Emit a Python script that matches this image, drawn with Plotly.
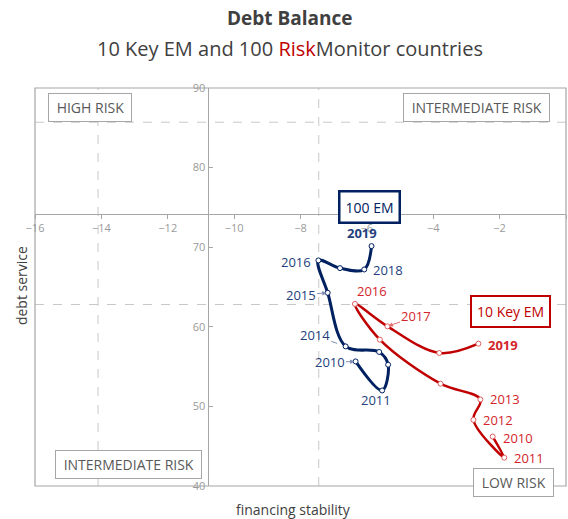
import plotly.graph_objects as go

# Debt balance paths, 2010-2019
years = [2010, 2011, 2012, 2013, 2014, 2015, 2016, 2017, 2018, 2019]

em100_x = [-6.34, -5.54, -5.36, -5.63, -6.64, -7.18, -7.46, -6.81, -6.08, -5.86]
em100_y = [55.65, 52.00, 55.24, 56.84, 57.54, 64.27, 68.34, 67.37, 67.20, 70.14]

key10_x = [-2.21, -1.86, -2.79, -2.58, -3.78, -5.61, -6.36, -5.38, -3.82, -2.64]
key10_y = [46.21, 43.56, 48.31, 50.87, 52.85, 58.39, 62.88, 60.06, 56.71, 57.88]

x_ticks = [-16, -14, -12, -10, -8, -6, -4, -2, 0]
y_ticks = [40, 50, 60, 70, 80, 90]

# reference (dashed) lines
ref_x = [-14.1, -7.45]
ref_y = [85.7, 62.8]

NAVY = "#002060"
NAVY_TXT = "#233f7d"
RED = "#c00000"
RED_TXT = "#d3252a"
GRAY = "#a6a6a6"
FONT = "Open Sans"

fig = go.Figure()

fig.add_trace(go.Scatter(
    x=em100_x, y=em100_y, mode="lines+markers", name="100 EM",
    line=dict(color=NAVY, width=3, shape="spline", smoothing=1.0),
    marker=dict(size=5, color="white", line=dict(color=NAVY, width=1)),
    hoverinfo="skip"))

fig.add_trace(go.Scatter(
    x=key10_x, y=key10_y, mode="lines+markers", name="10 Key EM",
    line=dict(color=RED, width=2.5, shape="spline", smoothing=1.0),
    marker=dict(size=5, color="white", line=dict(color="#e06060", width=1)),
    hoverinfo="skip"))

shapes = []
for v in ref_x:
    shapes.append(dict(type="line", xref="x", yref="paper", x0=v, x1=v, y0=0, y1=1,
                       line=dict(color="#c8c8c8", width=1, dash="dash"), layer="below"))
for v in ref_y:
    shapes.append(dict(type="line", xref="paper", yref="y", x0=0, x1=1, y0=v, y1=v,
                       line=dict(color="#c8c8c8", width=1, dash="dash"), layer="below"))
shapes.append(dict(type="rect", xref="paper", yref="paper", x0=0, x1=1, y0=0, y1=1,
                   line=dict(color=GRAY, width=1.2), layer="below"))

ann = []

def label(x, y, text, color, dx, dy, anchor="center", bold=False, size=13):
    t = f"<b>{text}</b>" if bold else text
    ann.append(dict(x=x, y=y, xref="x", yref="y", text=t, showarrow=False,
                    xanchor=anchor, yanchor="middle", xshift=dx, yshift=dy,
                    font=dict(family=FONT, size=size, color=color)))

def arrow_label(x, y, text, color, arrow_color, ax, ay, head=2, standoff=1, size=13):
    ann.append(dict(x=x, y=y, xref="x", yref="y", text=text, showarrow=True,
                    ax=ax, ay=ay, arrowhead=head, arrowsize=0.9, arrowwidth=1,
                    arrowcolor=arrow_color, standoff=standoff,
                    font=dict(family=FONT, size=size, color=color)))

i = {yr: k for k, yr in enumerate(years)}

# 100 EM labels
label(em100_x[i[2019]], em100_y[i[2019]], "2019", NAVY_TXT, -10, 13, bold=True)
label(em100_x[i[2018]], em100_y[i[2018]], "2018", NAVY_TXT, 7, -1, anchor="left")
label(em100_x[i[2016]], em100_y[i[2016]], "2016", NAVY_TXT, -5, -2, anchor="right")
label(em100_x[i[2011]], em100_y[i[2011]], "2011", NAVY_TXT, -6, -10)
arrow_label(em100_x[i[2015]], em100_y[i[2015]], "2015", NAVY_TXT, "#7f8db0", -27, 2)
arrow_label(em100_x[i[2014]], em100_y[i[2014]], "2014", NAVY_TXT, "#7f8db0", -31, -11,
            head=0, standoff=9)
arrow_label(em100_x[i[2010]], em100_y[i[2010]], "2010", NAVY_TXT, "#7f8db0", -26, 1)

# 10 Key EM labels
label(key10_x[i[2016]], key10_y[i[2016]], "2016", RED_TXT, 17, 13)
label(key10_x[i[2019]], key10_y[i[2019]], "2019", RED_TXT, 8, -1, anchor="left", bold=True)
label(key10_x[i[2013]], key10_y[i[2013]], "2013", RED_TXT, 8, 0, anchor="left")
label(key10_x[i[2012]], key10_y[i[2012]], "2012", RED_TXT, 8, 0, anchor="left")
label(key10_x[i[2010]], key10_y[i[2010]], "2010", RED_TXT, 8, -1, anchor="left")
label(key10_x[i[2011]], key10_y[i[2011]], "2011", RED_TXT, 8, 0, anchor="left")
arrow_label(key10_x[i[2017]], key10_y[i[2017]], "2017", RED_TXT, "#e07070", 29, -10)

# series name boxes
ann.append(dict(x=-5.92, y=75.05, xref="x", yref="y", text="100 EM", showarrow=False,
                font=dict(family=FONT, size=14, color=NAVY), bgcolor="white",
                bordercolor=NAVY, borderwidth=2.5, borderpad=5))
ann.append(dict(x=-1.66, y=61.98, xref="x", yref="y", text="10 Key EM", showarrow=False,
                font=dict(family=FONT, size=14, color=RED), bgcolor="white",
                bordercolor=RED, borderwidth=2, borderpad=5))

# quadrant boxes
def quad(px, py, text):
    ann.append(dict(x=px, y=py, xref="paper", yref="paper", text=text, showarrow=False,
                    xanchor="center", yanchor="middle",
                    font=dict(family=FONT, size=14, color="#595959"), bgcolor="white",
                    bordercolor=GRAY, borderwidth=1, borderpad=4))

quad(0.1045, 0.951, "&nbsp;HIGH RISK&nbsp;")
quad(0.832, 0.951, "&nbsp;INTERMEDIATE RISK&nbsp;")
quad(0.176, 0.053, "&nbsp;INTERMEDIATE RISK&nbsp;")
quad(0.901, 0.009, "&nbsp;LOW RISK&nbsp;")

# titles
ann.append(dict(x=0.48, y=1.176, xref="paper", yref="paper", showarrow=False,
                text="<b>Debt Balance</b>", yanchor="middle",
                font=dict(family=FONT, size=19, color="#404040")))
ann.append(dict(x=0.48, y=1.1, xref="paper", yref="paper", showarrow=False,
                text='10 Key EM and 100 <span style="color:#c00000">Risk</span>Monitor countries',
                yanchor="middle", font=dict(family=FONT, size=20, color="#404040")))
ann.append(dict(x=-0.024, y=0.503, xref="paper", yref="paper", showarrow=False,
                text="debt service", textangle=-90, xanchor="center", yanchor="middle",
                font=dict(family=FONT, size=14, color="#404040")))
ann.append(dict(x=0.486, y=-0.058, xref="paper", yref="paper", showarrow=False,
                text="financing stability", xanchor="center", yanchor="middle",
                font=dict(family=FONT, size=14, color="#404040")))

fig.update_layout(
    width=568, height=519,
    margin=dict(l=35, r=2, t=88, b=33),
    paper_bgcolor="white", plot_bgcolor="white",
    showlegend=False,
    shapes=shapes, annotations=ann,
    font=dict(family=FONT),
    xaxis=dict(range=[-16, 0], tickvals=x_ticks, showgrid=False, zeroline=False,
               anchor="free", position=(74.2 - 40) / 50,
               showline=True, linecolor=GRAY, linewidth=1,
               ticks="outside", ticklen=4, tickcolor=GRAY,
               tickfont=dict(family=FONT, size=11, color="#9a9a9a")),
    yaxis=dict(range=[40, 90], tickvals=y_ticks, showgrid=False, zeroline=False,
               anchor="free", position=(-10.8 + 16) / 16,
               showline=True, linecolor=GRAY, linewidth=1,
               ticks="inside", ticklen=4, tickcolor=GRAY,
               tickfont=dict(family=FONT, size=11, color="#9a9a9a")),
)

fig.write_html("out.html")
